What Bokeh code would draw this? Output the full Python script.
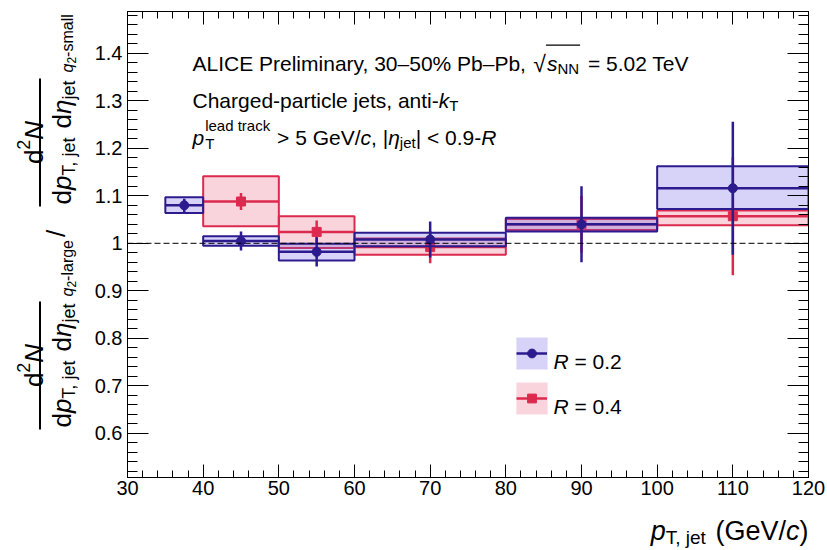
import math
from bokeh.plotting import figure
from bokeh.layouts import row, column
from bokeh.models import (Label, BoxAnnotation, Span, Legend, LegendItem, FixedTicker,
                          LinearAxis, CustomJSTickFormatter, ColumnDataSource, Range1d)
from bokeh.embed import file_html
from bokeh.resources import INLINE

# ---------------- data ----------------
bin_lo_r02 = [35, 40, 50, 60, 80, 100]
bin_hi_r02 = [40, 50, 60, 80, 100, 120]
ratio_r02 = [1.080, 1.005, 0.982, 1.008, 1.040, 1.116]
stat_r02 = [0.014, 0.020, 0.031, 0.038, 0.080, 0.140]
sys_lo_r02 = [1.064, 0.995, 0.964, 0.994, 1.025, 1.072]
sys_hi_r02 = [1.097, 1.015, 0.999, 1.022, 1.054, 1.162]

bin_lo_r04 = [40, 50, 60, 80, 100]
bin_hi_r04 = [50, 60, 80, 100, 120]
ratio_r04 = [1.088, 1.024, 0.992, 1.040, 1.057]
stat_r04 = [0.018, 0.024, 0.034, 0.060, 0.124]
sys_lo_r04 = [1.036, 0.990, 0.976, 1.028, 1.038]
sys_hi_r04 = [1.141, 1.057, 1.010, 1.051, 1.069]

x_major_ticks = [30, 40, 50, 60, 70, 80, 90, 100, 110, 120]
x_minor_ticks = list(range(30, 121, 2))
y_major_ticks = [0.6, 0.7, 0.8, 0.9, 1.0, 1.1, 1.2, 1.3, 1.4]
y_minor_ticks = [round(0.52 + 0.02 * i, 2) for i in range(49)]

FONT = "Liberation Sans"
BLUE = "#2b1b8e"
BLUE_FILL = "#6a5ae0"
RED = "#dc2a4e"
RED_FILL = "#e0284f"

# page geometry (pixels in the 827x550 window)
LW = 82            # width of the left strip holding the y title
BH = 45            # height of the bottom strip holding the x title
FL, FT, FR, FB = 127, 11, 808, 477   # main frame edges


def no_align(f):
    try:
        f.frame_align = False
    except Exception:
        pass


p = figure(width=827 - LW, height=550 - BH, x_range=Range1d(30, 120),
           y_range=Range1d(0.507, 1.488), output_backend="svg", toolbar_location=None,
           min_border_left=FL - LW, min_border_right=827 - FR, min_border_top=FT,
           min_border_bottom=550 - BH - FB)
no_align(p)
p.background_fill_color = "white"
p.border_fill_color = "white"
p.outline_line_color = "black"
p.outline_line_width = 1
p.xgrid.visible = False
p.ygrid.visible = False

xt = FixedTicker(ticks=x_major_ticks, minor_ticks=x_minor_ticks)
yt = FixedTicker(ticks=y_major_ticks, minor_ticks=y_minor_ticks)
yfmt = CustomJSTickFormatter(code="return Math.abs(tick-1)<1e-9 ? '1' : tick.toFixed(1);")
blank = CustomJSTickFormatter(code="return '';")


def style_axis(ax, tin, tmin):
    ax.major_tick_in = tin
    ax.major_tick_out = 0
    ax.minor_tick_in = tmin
    ax.minor_tick_out = 0
    ax.axis_line_color = "black"
    ax.major_tick_line_color = "black"
    ax.minor_tick_line_color = "black"
    ax.major_label_text_font = FONT
    ax.major_label_text_font_size = "20px"
    ax.major_label_text_color = "black"


p.xaxis[0].ticker = xt
p.yaxis[0].ticker = yt
p.yaxis[0].formatter = yfmt
style_axis(p.xaxis[0], 13, 7)
style_axis(p.yaxis[0], 21, 10)
p.xaxis[0].major_label_standoff = 3
p.yaxis[0].major_label_standoff = 5

ax_top = LinearAxis(ticker=xt, formatter=blank)
style_axis(ax_top, 13, 7)
ax_right = LinearAxis(ticker=yt, formatter=blank)
style_axis(ax_right, 21, 10)
p.add_layout(ax_top, "above")
p.add_layout(ax_right, "right")

p.add_layout(Span(location=1.0, dimension="width", line_color="black",
                  line_width=1, line_dash="6 3"))


def series(lo, hi, y, st, slo, shi, col, fill, falpha, marker):
    src = ColumnDataSource(dict(
        lo=lo, hi=hi, y=y, slo=slo, shi=shi,
        xc=[(a + b) / 2 for a, b in zip(lo, hi)],
        elo=[v - e for v, e in zip(y, st)],
        ehi=[v + e for v, e in zip(y, st)]))
    p.quad(left="lo", right="hi", bottom="slo", top="shi", source=src,
           fill_color=fill, fill_alpha=falpha, line_color=col, line_width=2)
    hs = p.segment(x0="lo", x1="hi", y0="y", y1="y", source=src, line_color=col, line_width=2.5)
    p.segment(x0="xc", x1="xc", y0="elo", y1="ehi", source=src, line_color=col, line_width=2.5)
    mk = p.scatter(x="xc", y="y", source=src, marker=marker, size=9,
                   fill_color=col, line_color=col)
    # legend-only box (hidden renderer, fill without outline)
    lq = p.quad(left="lo", right="hi", bottom="slo", top="shi", source=src,
                fill_color=fill, fill_alpha=falpha, line_alpha=0)
    lq.visible = False
    return lq, [hs, mk]


box04, mark04 = series(bin_lo_r04, bin_hi_r04, ratio_r04, stat_r04, sys_lo_r04, sys_hi_r04,
                       RED, RED_FILL, 0.2, "square")
box02, mark02 = series(bin_lo_r02, bin_hi_r02, ratio_r02, stat_r02, sys_lo_r02, sys_hi_r02,
                       BLUE, BLUE_FILL, 0.27, "circle")

leg_common = dict(orientation="vertical", padding=0, margin=0, border_line_alpha=0,
                  background_fill_alpha=0, label_standoff=4, label_text_font_size="10px")
legA = Legend(items=[LegendItem(label=" ", renderers=[box02]),
                     LegendItem(label=" ", renderers=[box04])],
              location=(385, 59), glyph_width=39, glyph_height=40, spacing=5, **leg_common)
legB = Legend(items=[LegendItem(label=" ", renderers=mark02),
                     LegendItem(label=" ", renderers=mark04)],
              location=(389, 68), glyph_width=31, glyph_height=22, spacing=23, **leg_common)
p.add_layout(legA)
p.add_layout(legB)

# ---------------- side strips for the axis titles ----------------
left = figure(width=LW, height=550, x_range=Range1d(0, LW), y_range=Range1d(0, 550),
              x_axis_type=None, y_axis_type=None, output_backend="svg",
              toolbar_location=None, min_border=0)
no_align(left)
left.outline_line_color = None
left.background_fill_color = "white"
left.border_fill_color = "white"

bottom = figure(width=827 - LW, height=BH, x_range=Range1d(0, 1), y_range=Range1d(0, 1),
                x_axis_type=None, y_axis_type=None, output_backend="svg",
                toolbar_location=None, min_border=0)
no_align(bottom)
bottom.outline_line_color = None
bottom.background_fill_color = "white"
bottom.border_fill_color = "white"

# (figure, canvas x of its frame left, canvas y of its frame bottom)
MAIN = (p, FL, FB)
LEFT = (left, 0, 550)
BOT = (bottom, LW, 550)

# ---------------- text helpers ----------------
AW = {' ': 278, ',': 278, '-': 333, '.': 278, '/': 278, '%': 889, '(': 333, ')': 333,
      '<': 584, '=': 584, '>': 584, '|': 260, '–': 556, '√': 549, 'η': 556,
      'A': 667, 'C': 722, 'E': 667, 'G': 778, 'I': 278, 'L': 556, 'N': 722, 'P': 667,
      'R': 722, 'T': 611, 'V': 667,
      'a': 556, 'b': 556, 'c': 500, 'd': 556, 'e': 556, 'g': 556, 'h': 556, 'i': 222,
      'j': 222, 'k': 500, 'l': 222, 'm': 833, 'n': 556, 'p': 556, 'q': 556, 'r': 333,
      's': 500, 't': 278, 'y': 500}


def tw(s, size):
    return sum(AW.get(c, 556) for c in s) * size / 1000.0


def put(fig, txt, px, py, size, style="normal", angle=0.0):
    f, ox, oy = fig
    lead = txt[:len(txt) - len(txt.lstrip())]
    shift = tw(lead, size)
    if angle:
        py -= shift
    else:
        px += shift
    f.add_layout(Label(x=px - ox, y=oy - py, x_units="screen", y_units="screen",
                       text=txt.strip(), text_font=FONT, text_font_size=f"{size}px",
                       text_font_style=style, angle=angle, text_align="left",
                       text_baseline="alphabetic", text_color="black"))


def run(fig, pieces, x, y):
    for t, s, st, dy in pieces:
        put(fig, t, x, y + dy, s, st)
        x += tw(t, s)
    return x


def vrun(fig, pieces, xb, y):
    for t, s, st, dx in pieces:
        put(fig, t, xb + dx, y, s, st, angle=math.pi / 2)
        y -= tw(t, s)
    return y


def sbox(fig, x0, x1, y0, y1):
    f, ox, oy = fig
    f.add_layout(BoxAnnotation(left=x0 - ox, right=x1 - ox, top=oy - y0, bottom=oy - y1,
                               left_units="screen", right_units="screen",
                               top_units="screen", bottom_units="screen",
                               fill_color="black", fill_alpha=1.0, line_color=None))


# ---------------- header text ----------------
S = 21
x = run(MAIN, [("ALICE Preliminary, 30–50% Pb–Pb, ", S, "normal", 0)], 192, 63)
x = run(MAIN, [("√", 23, "normal", 0)], x, 63)
x0 = x
x = run(MAIN, [("s", S, "italic", 0), ("NN", 15, "normal", 5)], x + 1, 63)
sbox(MAIN, x0, x + 1, 44, 45.3)
run(MAIN, [(" = 5.02 TeV", S, "normal", 0)], x + 3, 63)

run(MAIN, [("Charged-particle jets, anti-", S, "normal", 0), ("k", S, "italic", 0),
           ("T", 15, "normal", 5)], 192, 100)

put(MAIN, "p", 192, 137, S, "italic")
xs = 192 + tw("p", S) + 1
put(MAIN, "lead track", xs, 125, 15)
put(MAIN, "T", xs, 143, 15)
x = xs + tw("lead track", 15) + 1
run(MAIN, [(" > 5 GeV/", S, "normal", 0), ("c", S, "italic", 0), (", |", S, "normal", 0),
           ("η", S, "italic", 0), ("jet", 15, "normal", 5), ("| < 0.9-", S, "normal", 0),
           ("R", S, "italic", 0)], x, 137)

# ---------------- legend labels ----------------
run(MAIN, [("R", S, "italic", 0), (" = 0.2", S, "normal", 0)], 553, 361)
run(MAIN, [("R", S, "italic", 0), (" = 0.4", S, "normal", 0)], 553, 406)

# ---------------- x-axis title ----------------
XS = 27
xpieces = [("p", XS, "italic", 0), ("T, jet", 19, "normal", 7), (" (GeV/", XS, "normal", 0),
           ("c", XS, "italic", 0), (")", XS, "normal", 0)]
xw = sum(tw(t, s) for t, s, _, _ in xpieces)
run(BOT, xpieces, FR - xw, 530)

# ---------------- y-axis title (rotated) ----------------
YS, YSUB, YSUP = 26, 18, 16
num = [("d", YS, "normal", 0), ("2", 18, "normal", -10), ("N", YS, "italic", 0)]
den = [("d", YS, "normal", 0), ("p", YS, "italic", 0), ("T, jet", YSUB, "normal", 7),
       (" d", YS, "normal", 0), ("η", YS, "italic", 0), ("jet", YSUB, "normal", 7)]
numw = sum(tw(t, s) for t, s, _, _ in num)
denw = sum(tw(t, s) for t, s, _, _ in den)


def fraction(yc):
    vrun(LEFT, num, 33, yc + numw / 2)
    vrun(LEFT, den, 61, yc + denw / 2)
    sbox(LEFT, 38.5, 40.5, yc - denw / 2 - 2, yc + denw / 2 + 2)


YC_LOW, YC_UP = 365, 142
fraction(YC_LOW)
y = YC_LOW - denw / 2 - 7
y = vrun(LEFT, [("q", YSUP, "italic", 0), ("2", 12, "normal", 4),
                ("-large", YSUP, "normal", 0)], 67, y)
vrun(LEFT, [("/", YS, "normal", 0)], 55, y - 3)
fraction(YC_UP)
vrun(LEFT, [("q", YSUP, "italic", 0), ("2", 12, "normal", 4), ("-small", YSUP, "normal", 0)],
     67, YC_UP - denw / 2 - 8)

layout = row(left, column(p, bottom))
open("out.html", "w").write(file_html(layout, INLINE))
